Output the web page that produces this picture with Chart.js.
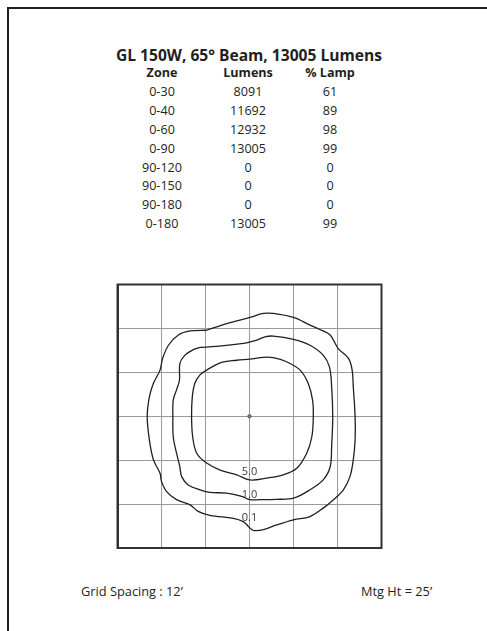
<!DOCTYPE html>
<html><head><meta charset="utf-8">
<script src="https://cdn.jsdelivr.net/npm/chart.js@4/dist/chart.umd.min.js"></script>
<style>
html,body{margin:0;padding:0;background:#fff;}
body{width:487px;height:631px;position:relative;overflow:hidden;font-family:"Open Sans",sans-serif;color:#231f20;}
#frame{position:absolute;left:7px;top:7px;width:490px;height:640px;border-top:2px solid #231f20;border-left:2px solid #231f20;}
#title{position:absolute;left:0;width:498px;top:45px;text-align:center;font-weight:700;font-size:15.6px;line-height:20px;}
.cell{position:absolute;width:100px;margin-left:-50px;text-align:center;font-size:12.6px;line-height:14px;}
.hdr{font-weight:700;}
.foot{position:absolute;top:584px;font-size:12.8px;line-height:15px;}
#c{position:absolute;left:0;top:0;}
</style></head>
<body>
<div id="frame"></div>
<div id="title">GL 150W, 65° Beam, 13005 Lumens</div>
<div id="table"></div>
<div class="foot" style="left:81px">Grid Spacing : 12’</div>
<div class="foot" style="left:361px">Mtg Ht = 25’</div>
<canvas id="c" width="487" height="631"></canvas>
<script>
// Table data
const zones = ["0-30","0-40","0-60","0-90","90-120","90-150","90-180","0-180"];
const lumens = [8091,11692,12932,13005,0,0,0,13005];
const pctLamp = [61,89,98,99,0,0,0,99];
const headers = ["Zone","Lumens","% Lamp"];

// Grid (feet): spacing 12'
const gridTicks = [-36,-24,-12,0,12,24,36];
const mountHeight = 25;

// Iso-footcandle contours (x, y in feet)
const contour01 = [[-11.7,23.5],[-6.2,25.3],[0.1,27.0],[3.8,28.1],[6.5,28.1],[12.0,27.0],[16.5,24.9],[19.2,23.7],[22.0,22.2],[24.2,18.5],[27.0,15.8],[28.0,12.6],[28.3,8.1],[28.8,-0.1],[28.8,-6.5],[28.3,-11.9],[27.4,-16.5],[25.6,-20.1],[22.9,-22.8],[20.1,-25.1],[16.5,-27.4],[12.0,-28.3],[7.4,-29.7],[3.8,-31.0],[1.0,-31.2],[-0.3,-30.1],[-1.7,-28.8],[-4.4,-27.9],[-10.8,-27.1],[-14.0,-26.0],[-16.2,-24.2],[-19.9,-22.8],[-22.6,-20.6],[-24.0,-17.8],[-24.4,-15.6],[-26.2,-11.9],[-27.3,-6.5],[-27.9,-0.1],[-27.3,5.3],[-26.2,9.0],[-24.4,12.6],[-23.7,15.8],[-22.1,19.4],[-19.4,22.2],[-16.2,23.3],[-11.7,23.5]];
const contour10 = [[-13.5,18.8],[-9.0,19.1],[-1.7,19.9],[0.1,20.3],[1.95,20.8],[4.2,21.7],[6.5,21.9],[12.0,21.0],[16.5,19.4],[20.1,16.7],[21.8,13.5],[22.4,8.1],[22.7,-0.1],[22.4,-8.3],[22.0,-13.8],[20.1,-17.4],[16.5,-20.1],[12.0,-22.4],[7.4,-22.7],[2.9,-22.8],[0.1,-22.8],[-2.1,-21.9],[-6.2,-21.0],[-10.8,-20.8],[-13.5,-20.1],[-16.7,-18.8],[-18.5,-16.5],[-19.0,-13.8],[-19.9,-10.1],[-20.8,-5.6],[-20.9,-0.1],[-20.8,4.4],[-19.9,7.2],[-19.1,9.9],[-19.0,14.4],[-17.6,16.7],[-15.3,18.2],[-13.5,18.8]];
const contour50 = [[-11.7,12.6],[-8.0,14.6],[-3.5,15.3],[0.1,15.6],[3.8,16.1],[6.5,16.0],[10.1,14.9],[13.8,12.6],[16.0,9.0],[17.2,4.4],[17.4,-0.1],[17.0,-5.6],[15.6,-10.1],[12.9,-14.2],[9.2,-16.0],[4.7,-16.9],[0.1,-17.4],[-3.5,-16.0],[-8.0,-14.7],[-11.7,-12.8],[-14.4,-10.1],[-15.5,-5.6],[-15.8,-0.1],[-15.6,5.3],[-14.9,9.0],[-13.5,11.3],[-11.7,12.6]];
const contourLabels = ["5.0","1.0","0.1"];
const labelPositions = [[0,-15.3],[0,-21.5],[0,-27.7]];

// Build the HTML table
const tbl = document.getElementById('table');
const colX = [162,248,330];
const rowY0 = 66, rowStep = 18.9;
headers.forEach((h,i)=>{const d=document.createElement('div');d.className='cell hdr';d.style.left=colX[i]+'px';d.style.top=rowY0+'px';d.textContent=h;tbl.appendChild(d);});
zones.forEach((z,r)=>{[z,lumens[r],pctLamp[r]].forEach((v,i)=>{const d=document.createElement('div');d.className='cell';d.style.left=colX[i]+'px';d.style.top=(rowY0+rowStep*(r+1))+'px';d.textContent=String(v);tbl.appendChild(d);});});

const toPts = a => a.map(p=>({x:p[0],y:p[1]}));
const lineDs = (data)=>({type:'scatter',data:toPts(data),showLine:true,borderColor:'#231f20',borderWidth:1.3,pointRadius:0,tension:0.35,fill:false});

const labelPlugin = {
  id:'contourLabels',
  afterDatasetsDraw(chart){
    const {ctx,scales:{x,y}} = chart;
    ctx.save();
    ctx.font = '11px "Open Sans", sans-serif';
    ctx.fillStyle = '#3a3a3a';
    ctx.textAlign='center';ctx.textBaseline='middle';
    contourLabels.forEach((t,i)=>{ctx.fillText(t,x.getPixelForValue(labelPositions[i][0]),y.getPixelForValue(labelPositions[i][1]));});
    ctx.restore();
  }
};

new Chart(document.getElementById('c'),{
  type:'scatter',
  data:{datasets:[
    lineDs(contour50),lineDs(contour10),lineDs(contour01),
    {type:'scatter',data:[{x:0,y:0}],pointRadius:1.6,pointBorderWidth:1,pointBorderColor:'#444',pointBackgroundColor:'#888'}
  ]},
  options:{
    responsive:false,animation:false,
    layout:{padding:{left:117.5,top:284.5,right:105.5,bottom:83}},
    plugins:{legend:{display:false},tooltip:{enabled:false}},
    scales:{
      x:{type:'linear',min:gridTicks[0],max:gridTicks[gridTicks.length-1],
        afterBuildTicks:(s)=>{s.ticks=gridTicks.map(v=>({value:v}));},
        ticks:{display:false},grid:{color:'#9a9a9a',lineWidth:1,drawTicks:false},border:{display:true,color:'#333',width:2}},
      y:{type:'linear',min:gridTicks[0],max:gridTicks[gridTicks.length-1],
        afterBuildTicks:(s)=>{s.ticks=gridTicks.map(v=>({value:v}));},
        ticks:{display:false},grid:{color:'#9a9a9a',lineWidth:1,drawTicks:false},border:{display:true,color:'#333',width:2}}
    }
  },
  plugins:[labelPlugin,{id:'box',afterDraw(chart){const {ctx,chartArea:a}=chart;ctx.save();ctx.strokeStyle='#333';ctx.lineWidth=2;ctx.strokeRect(a.left,a.top,a.right-a.left,a.bottom-a.top);ctx.restore();}}]
});
</script>
</body></html>
